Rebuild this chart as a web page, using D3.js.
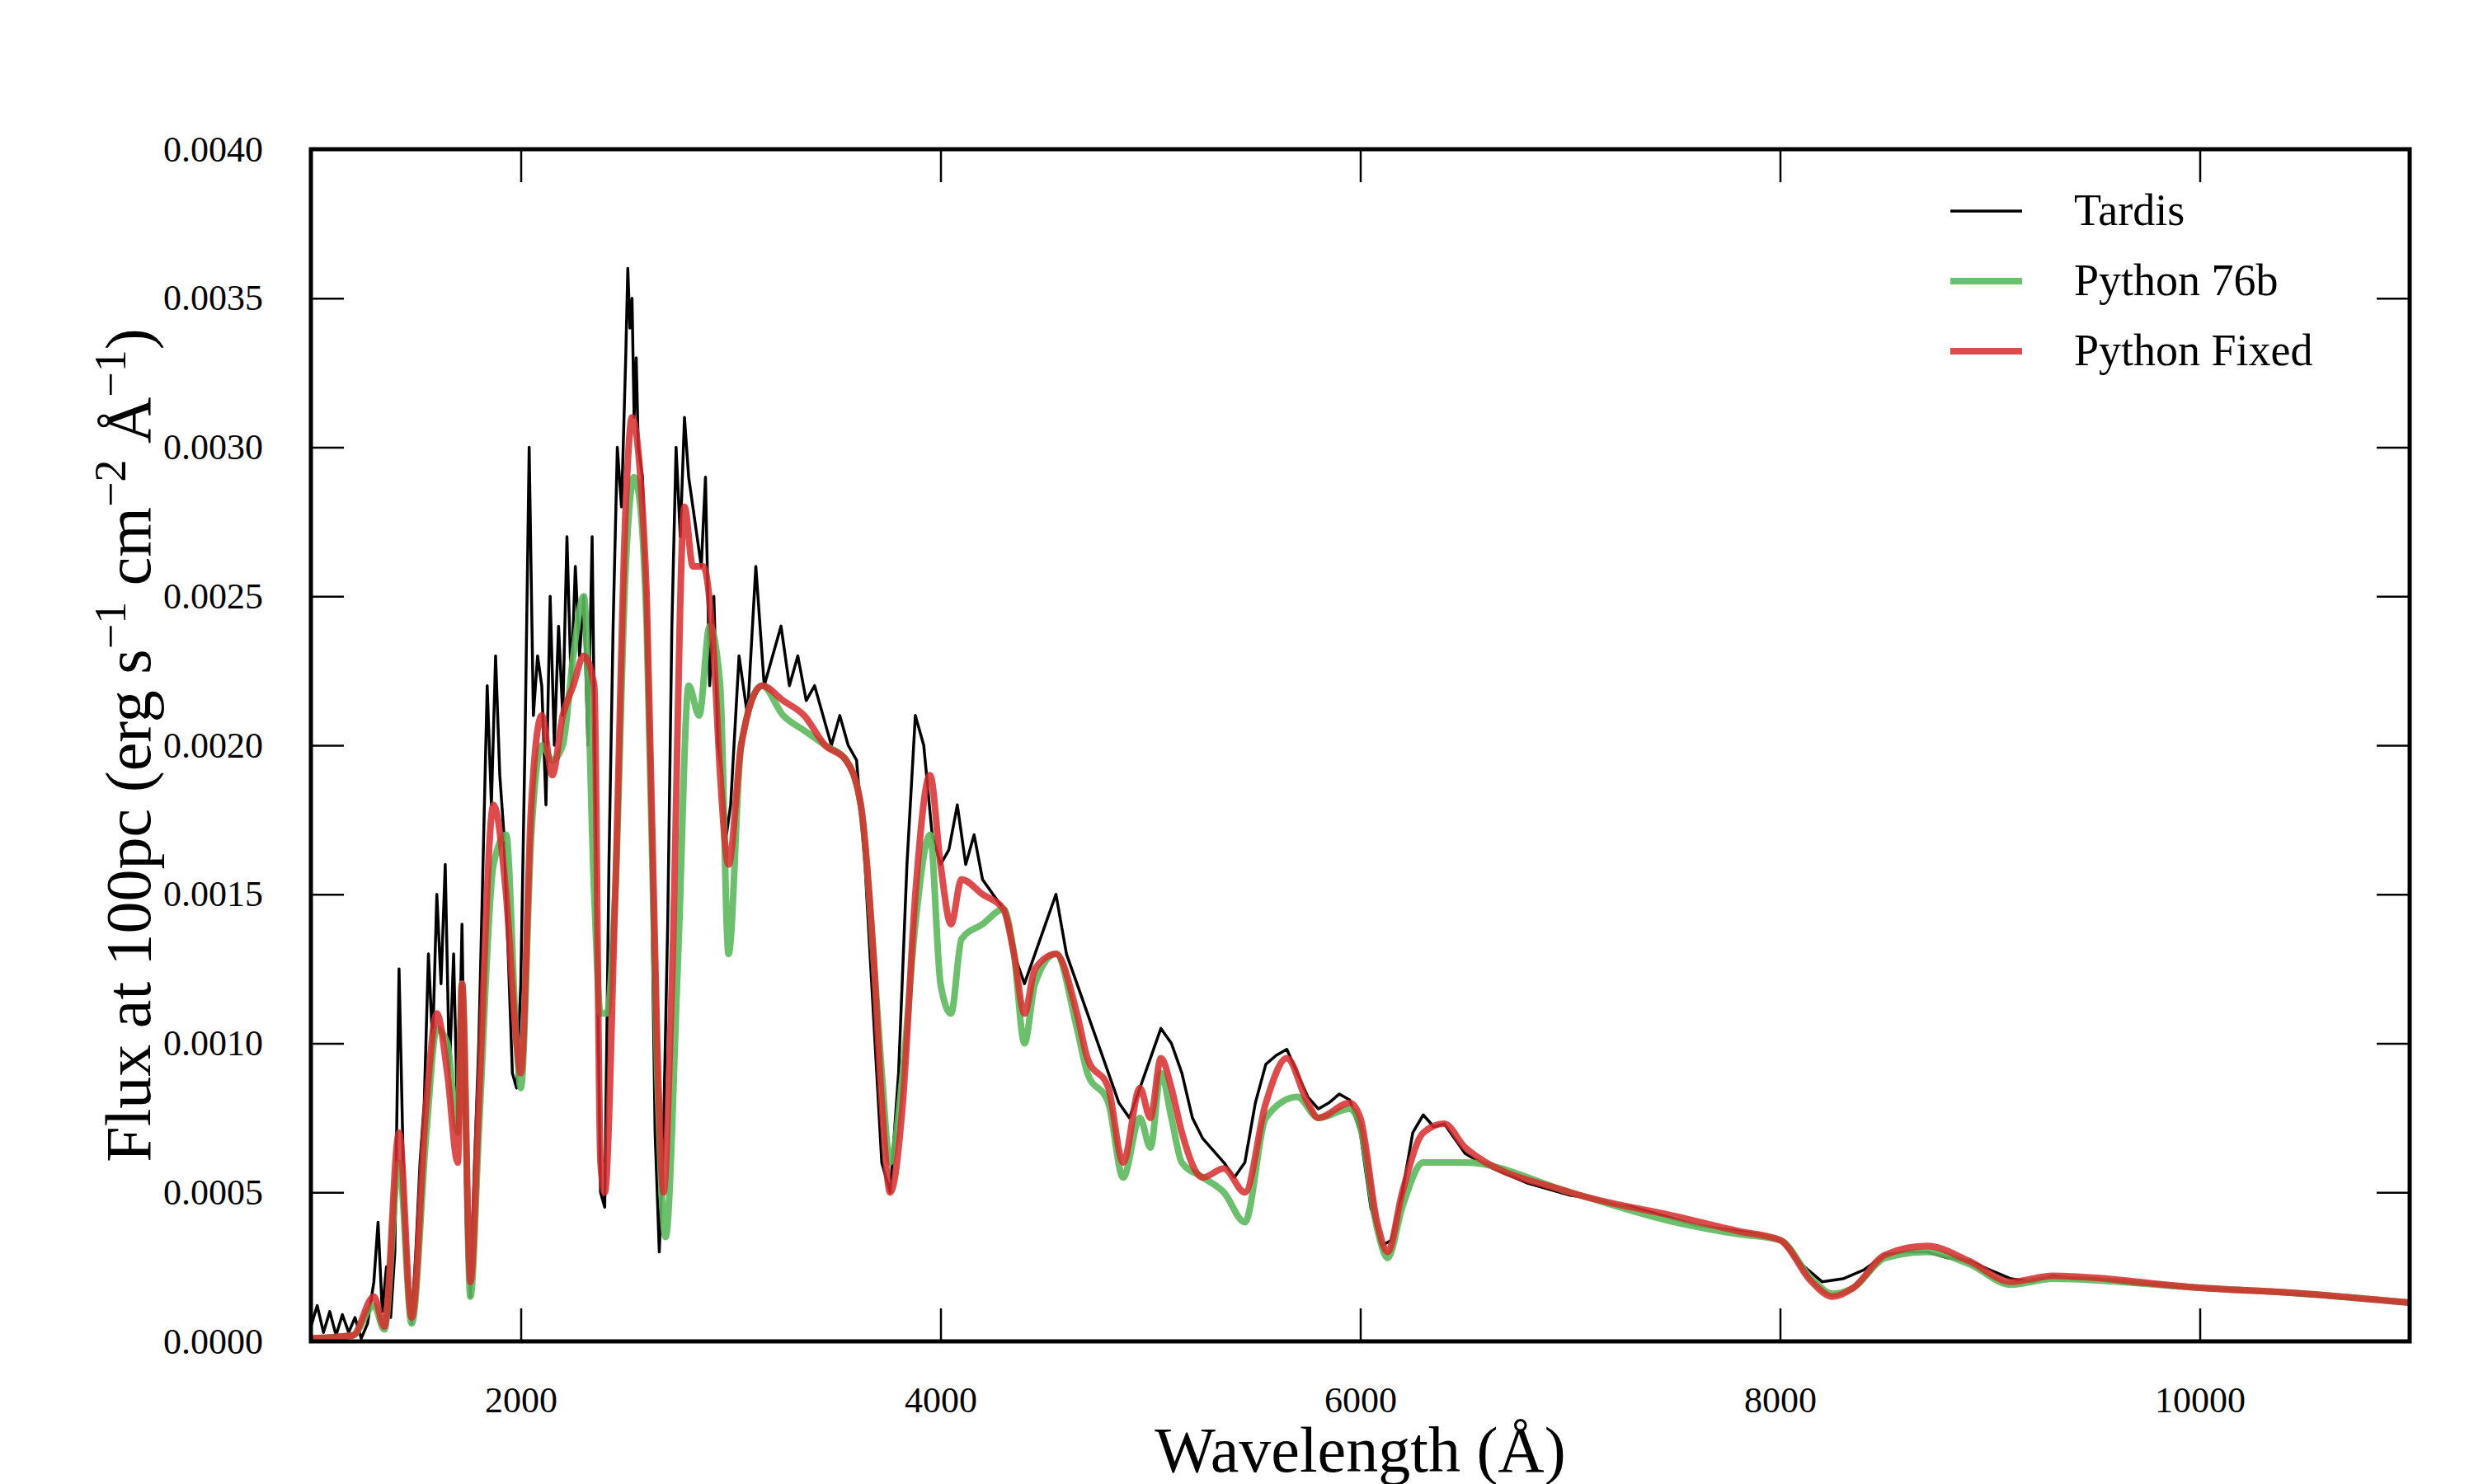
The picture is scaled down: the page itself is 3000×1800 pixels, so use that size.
<!DOCTYPE html>
<html><head><meta charset="utf-8">
<script src="https://cdn.jsdelivr.net/npm/d3@7"></script>
<style>body{margin:0;background:#fff}text{font-family:"Liberation Serif","DejaVu Serif",serif}</style>
</head><body><svg id="c" width="3000" height="1800"></svg>
<script>
// flux values in units of 1e-4 erg/s/cm2/A
const fixedWave=[1000,1200,1300,1350,1420,1480,1550,1600,1650,1700,1720,1760,1800,1870,1930,1980,2000,2050,2100,2150,2200,2250,2300,2350,2380,2400,2450,2500,2530,2570,2600,2650,2680,2720,2780,2820,2870,2920,2950,2990,3050,3150,3250,3350,3450,3550,3620,3680,3720,3760,3820,3880,3950,4000,4050,4100,4200,4300,4350,4400,4450,4550,4650,4700,4800,4870,4950,5000,5050,5100,5150,5250,5350,5450,5550,5650,5750,5800,5950,6000,6080,6130,6200,6300,6400,6500,7000,7500,7800,8000,8150,8250,8350,8500,8700,8900,9100,9300,10000,10500,11000];
const fixedFlux=[0.1,0.2,1.5,0.5,7,0.8,8,11,9,6,12,2,8,18,15,10,9,18,21,19,21,22,23,22,6,5,15,28,31,29,25,10,5,12,28,26,26,23,19,16,20,22,21.5,21,20,19.5,18,13,8,5,8,15,19,16,14,15.5,15,14.5,13,11,12.5,13,11,9.5,8.5,6,8.5,7.5,9.5,8.5,7,5.5,5.8,5,8,9.5,8,7.5,8,7.5,4,3,5,7,7.3,6.5,5,4.2,3.7,3.4,2,1.5,1.8,2.9,3.2,2.7,2.0,2.2,1.8,1.6,1.3];
const oldWave=[1000,1200,1300,1350,1420,1480,1550,1600,1650,1700,1720,1760,1800,1870,1930,1980,2000,2050,2100,2150,2200,2250,2300,2350,2380,2410,2450,2500,2540,2570,2600,2650,2690,2750,2800,2850,2900,2950,2990,3050,3150,3250,3350,3450,3550,3620,3680,3720,3760,3820,3880,3950,4000,4050,4100,4200,4300,4350,4400,4450,4550,4650,4700,4800,4870,4950,5000,5050,5100,5150,5250,5350,5450,5550,5700,5800,5950,6000,6080,6130,6200,6300,6500,7000,7500,7800,8000,8150,8250,8350,8500,8700,8900,9100,9300,10000,10500,11000];
const oldFlux=[0.1,0.2,1.2,0.4,6,0.6,7,10.5,10,7,12,1.5,7,16,17,10,8.5,17,20,19.5,20,23,25,15,11,11,15,26,29,28,24,9,3.5,13,22,21,24,22,13,20,22,21,20.5,20,19.5,18,13,9,6,9,14,17,12,11,13.5,14,14.5,13,10,12,13,10.5,9,8,5.5,7.5,6.5,9,7.5,6,5.5,5,4,7.5,8.2,7.5,7.8,7.2,3.8,2.8,4.5,6,6,5,4,3.6,3.4,2.1,1.6,1.8,2.8,3,2.6,1.9,2.1,1.8,1.6,1.3];
const tardisWave=[1000,1030,1060,1090,1120,1150,1180,1210,1240,1270,1300,
1320,1340,1360,1380,1400,1420,1440,1460,1480,1500,
1520,1540,1560,1580,1600,1620,1640,1660,1680,1700,
1720,1740,1760,1780,1800,1820,1840,1860,1880,1900,
1920,1940,1960,1980,2000,2020,2040,2060,2080,2100,
2120,2140,2160,2180,2200,2220,2240,2260,2280,2300,
2320,2340,2360,2380,2400,2420,2440,2460,2480,2500,
2510,2520,2530,2540,2550,2560,
2580,2600,2620,2640,2660,2680,2700,2720,2740,2760,
2780,2800,2820,2840,2860,2880,2900,2920,2940,2960,2980,
3000,3040,3080,3120,3160,3200,3240,3280,3320,3360,
3400,3440,3480,3520,3560,3600,3640,3680,3720,3760,
3800,3840,3880,3920,3960,4000,4040,4080,4120,4160,
4200,4250,4300,4350,4400,4450,4500,4550,4600,4650,
4700,4750,4800,4850,4900,4950,5000,5050,5100,5150,
5200,5250,5300,5350,5400,5450,5500,5550,5600,5650,
5700,5750,5800,5850,5900,5950,6000,6050,6100,6150,
6200,6250,6300,6350,6400,6450,6500,6600,6700,6800,
6900,7000,7100,7200,7300,7400,7500,7600,7700,7800,
7900,8000,8100,8200,8300,8400,8500,8600,8700,8800,
8900,9000,9100,9200,9300,9400,9500,9600,9700,9800,
9900,10000,10200,10400,10600,10800,11000];
const tardisFlux=[0.5,1.2,0.3,1.0,0.2,0.9,0.3,0.8,0.1,0.6,2.0,
4.0,1.0,2.5,0.8,3.0,12.5,6,2,0.6,3,
6,8,13,10,15,12,16,9,13,7,
14,4,1.5,6,10,16,22,18,23,19,
17,13,9,8.5,12,20,30,21,23,22,
18,25,20,24,21,27,22,26,23,25,
20,27,15,5,4.5,16,24,30,28,33,
36,34,35,31,33,30,
29,24,17,7,3,7,14,24,30,27,
31,29,28,27,26,29,22,25,20,19,17,
18,23,21,26,22,23,24,22,23,21.5,
22,21,20,21,20,19.5,16,11,6,5,
9,16,21,20,17,16,16.5,18,16,17,
15.5,15,14.5,13,12,13,14,15,13,12,
11,10,9,8,7.5,8.5,9.5,10.5,10,9,
7.5,6.8,6.4,6.0,5.5,6.0,8.0,9.3,9.6,9.8,
9.0,8.2,7.8,8.0,8.3,8.1,7.0,4.5,3.2,3.4,
5,7,7.6,7.2,7.3,6.8,6.3,5.9,5.6,5.3,
5.1,4.9,4.8,4.6,4.5,4.3,4.1,3.9,3.8,3.7,
3.6,3.4,2.6,2.0,2.1,2.4,2.9,3.0,3.0,2.8,
2.7,2.4,2.1,2.0,2.2,2.1,2.1,2.0,1.9,1.9,
1.8,1.8,1.7,1.6,1.5,1.4,1.3];
const xTicks=[2000,4000,6000,8000,10000];
const yTicks=[0,0.0005,0.001,0.0015,0.002,0.0025,0.003,0.0035,0.004];

const svg=d3.select("#c");
const L=377,R=2922,T=181,B=1627;
const x=d3.scaleLinear().domain([1000,11000]).range([L,R]);
const y=d3.scaleLinear().domain([0,0.004]).range([B,T]);
svg.append("clipPath").attr("id","cp").append("rect").attr("x",L).attr("y",T).attr("width",R-L).attr("height",B-T);
const mk=(w,f)=>w.map((v,i)=>[v,f[i]]);
const series=[
 {name:"Tardis",d:mk(tardisWave,tardisFlux),c:"#000",w:3.5,o:1,cv:d3.curveLinear},
 {name:"Python 76b",d:mk(oldWave,oldFlux),c:"rgb(92,184,92)",w:8,o:0.9,cv:d3.curveMonotoneX},
 {name:"Python Fixed",d:mk(fixedWave,fixedFlux),c:"rgb(215,45,45)",w:8,o:0.85,cv:d3.curveMonotoneX}
];
const pg=svg.append("g").attr("clip-path","url(#cp)");
series.forEach(s=>{const line=d3.line().x(d=>x(d[0])).y(d=>y(d[1]*1e-4)).curve(s.cv);
 pg.append("path").datum(s.d).attr("d",line).attr("fill","none").attr("stroke",s.c).attr("stroke-width",s.w).attr("stroke-opacity",s.o).attr("stroke-linejoin","round");});
svg.append("rect").attr("x",L).attr("y",T).attr("width",R-L).attr("height",B-T).attr("fill","none").attr("stroke","#000").attr("stroke-width",5);
const tl=40;
const st=a=>{a.select(".domain").remove();a.selectAll("line").attr("stroke-width",2.5);};
svg.append("g").attr("transform",`translate(0,${B})`).call(d3.axisBottom(x).tickValues(xTicks).tickSizeInner(-tl).tickSizeOuter(0).tickPadding(55).tickFormat(d3.format("d"))).call(st).call(a=>a.selectAll("text").attr("font-size",44));
svg.append("g").attr("transform",`translate(0,${T})`).call(d3.axisTop(x).tickValues(xTicks).tickSizeInner(-tl).tickSizeOuter(0).tickFormat("")).call(st);
svg.append("g").attr("transform",`translate(${L},0)`).call(d3.axisLeft(y).tickValues(yTicks).tickSizeInner(-tl).tickSizeOuter(0).tickPadding(58).tickFormat(d3.format(".4f"))).call(st).call(a=>a.selectAll("text").attr("font-size",44));
svg.append("g").attr("transform",`translate(${R},0)`).call(d3.axisRight(y).tickValues(yTicks).tickSizeInner(-tl).tickSizeOuter(0).tickFormat("")).call(st);
svg.append("text").attr("x",(L+R)/2).attr("y",1785).attr("text-anchor","middle").attr("font-size",78).text("Wavelength (Å)");
const yl=svg.append("text").attr("transform","translate(182,904) rotate(-90)").attr("text-anchor","middle").attr("font-size",78);
yl.append("tspan").text("Flux at 100pc (erg s");
yl.append("tspan").attr("dy",-30).attr("font-size",54).text("−1");
yl.append("tspan").attr("dy",30).text(" cm");
yl.append("tspan").attr("dy",-30).attr("font-size",54).text("−2");
yl.append("tspan").attr("dy",30).text(" Å");
yl.append("tspan").attr("dy",-30).attr("font-size",54).text("−1");
yl.append("tspan").attr("dy",30).text(")");
const lg=svg.append("g");
series.forEach((s,i)=>{const yy=256+i*85;
 lg.append("line").attr("x1",2365).attr("x2",2452).attr("y1",yy).attr("y2",yy).attr("stroke",s.c).attr("stroke-width",s.w).attr("stroke-opacity",s.o);
 lg.append("text").attr("x",2515).attr("y",yy+17).attr("font-size",54).text(s.name);});
</script></body></html>
